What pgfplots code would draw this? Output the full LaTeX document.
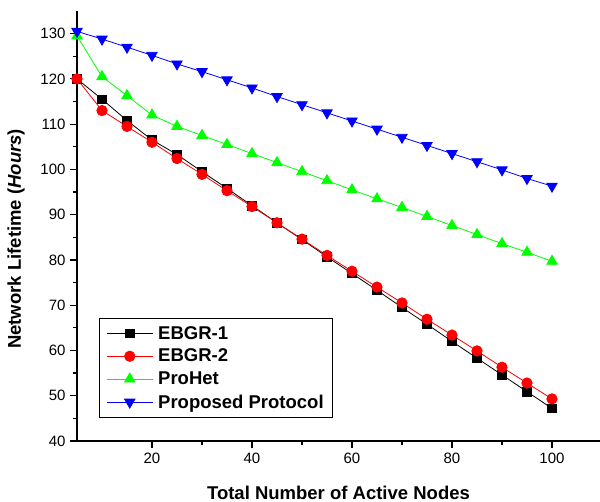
\documentclass[border=0pt]{standalone}
\usepackage{pgfplots}
\pgfplotsset{compat=1.18}
\usepackage{fontspec}
\setmainfont{Liberation Sans}
\begin{document}
\begin{tikzpicture}
\begin{axis}[
  scale only axis,
  width=523pt, height=430pt,
  xmin=5, xmax=109.6, ymin=40, ymax=135,
  axis lines=left,
  axis line style={line width=1.4pt, -},
  xtick={20,40,60,80,100},
  ytick={40,50,...,130},
  minor x tick num=1,
  minor y tick num=1,
  tick align=outside,
  major tick length=7pt,
  minor tick length=4pt,
  every tick/.style={black, line width=1.2pt},
  /pgf/number format/assume math mode=true,
  tick label style={font=\fontsize{15}{17}\selectfont},
  xticklabel style={yshift=-2pt},
  yticklabel style={xshift=-1pt},
  xlabel={\textbf{Total Number of Active Nodes}},
  ylabel={\textbf{Network Lifetime (\textit{Hours})}},
  label style={font=\fontsize{18.5}{21}\selectfont},
  x label style={at={(axis description cs:0.5,-0.121)}, anchor=center},
  y label style={at={(axis description cs:-0.1166,0.47)}, anchor=center},
  legend style={at={(axis description cs:0.042,0.0535)}, anchor=south west,
    draw=black, line width=0.8pt, font=\bfseries\fontsize{18.5}{21}\selectfont,
    row sep=4.5pt, inner xsep=7pt, inner ysep=6pt,
    /tikz/every odd column/.append style={column sep=3pt}},
  legend cell align=left,
  legend image code/.code={\draw[mark repeat=2,mark phase=2,#1] plot coordinates {(0pt,0pt) (23pt,0pt) (46pt,0pt)};},
]
\addplot[black, line width=0.8pt, mark=square*, mark size=4.3pt, mark options={solid, fill=black}] coordinates {
(5,120) (10,115.5) (15,110.8) (20,106.5) (25,103.3) (30,99.5) (35,95.8) (40,92) (45,88.2) (50,84.5)
(55,80.7) (60,77) (65,73.3) (70,69.5) (75,65.8) (80,62) (85,58.3) (90,54.6) (95,50.9) (100,47.2)};
\addlegendentry{EBGR-1}
\addplot[red, line width=0.8pt, mark=*, mark size=5.2pt, mark options={solid, fill=red}] coordinates {
(5,120) (10,113) (15,109.5) (20,106) (25,102.4) (30,98.9) (35,95.3) (40,91.8) (45,88.2) (50,84.6)
(55,81) (60,77.5) (65,74) (70,70.5) (75,66.9) (80,63.4) (85,59.9) (90,56.3) (95,52.8) (100,49.3)};
\addlegendentry{EBGR-2}
\addplot[color={rgb,255:red,0;green,255;blue,0}, line width=0.8pt, mark=triangle*, mark size=6pt, mark options={solid, fill={rgb,255:red,0;green,255;blue,0}}] coordinates {
(5,129.5) (10,120.5) (15,116.3) (20,112) (25,109.5) (30,107.5) (35,105.5) (40,103.5) (45,101.5) (50,99.5)
(55,97.5) (60,95.5) (65,93.5) (70,91.6) (75,89.6) (80,87.6) (85,85.6) (90,83.6) (95,81.7) (100,79.7)};
\addlegendentry{ProHet}
\addplot[blue, line width=0.8pt, mark=triangle*, mark size=6pt, mark options={solid, fill=blue, rotate=180}] coordinates {
(5,130.5) (10,128.8) (15,127) (20,125.2) (25,123.3) (30,121.6) (35,119.8) (40,118) (45,116.1) (50,114.3)
(55,112.5) (60,110.7) (65,108.9) (70,107.1) (75,105.3) (80,103.5) (85,101.7) (90,99.9) (95,98) (100,96.3)};
\addlegendentry{Proposed Protocol}
\end{axis}
\pgfresetboundingbox
\path ([xshift=-77pt,yshift=-61pt]current axis.south west) rectangle ([yshift=11pt]current axis.north east);
\end{tikzpicture}
\end{document}
